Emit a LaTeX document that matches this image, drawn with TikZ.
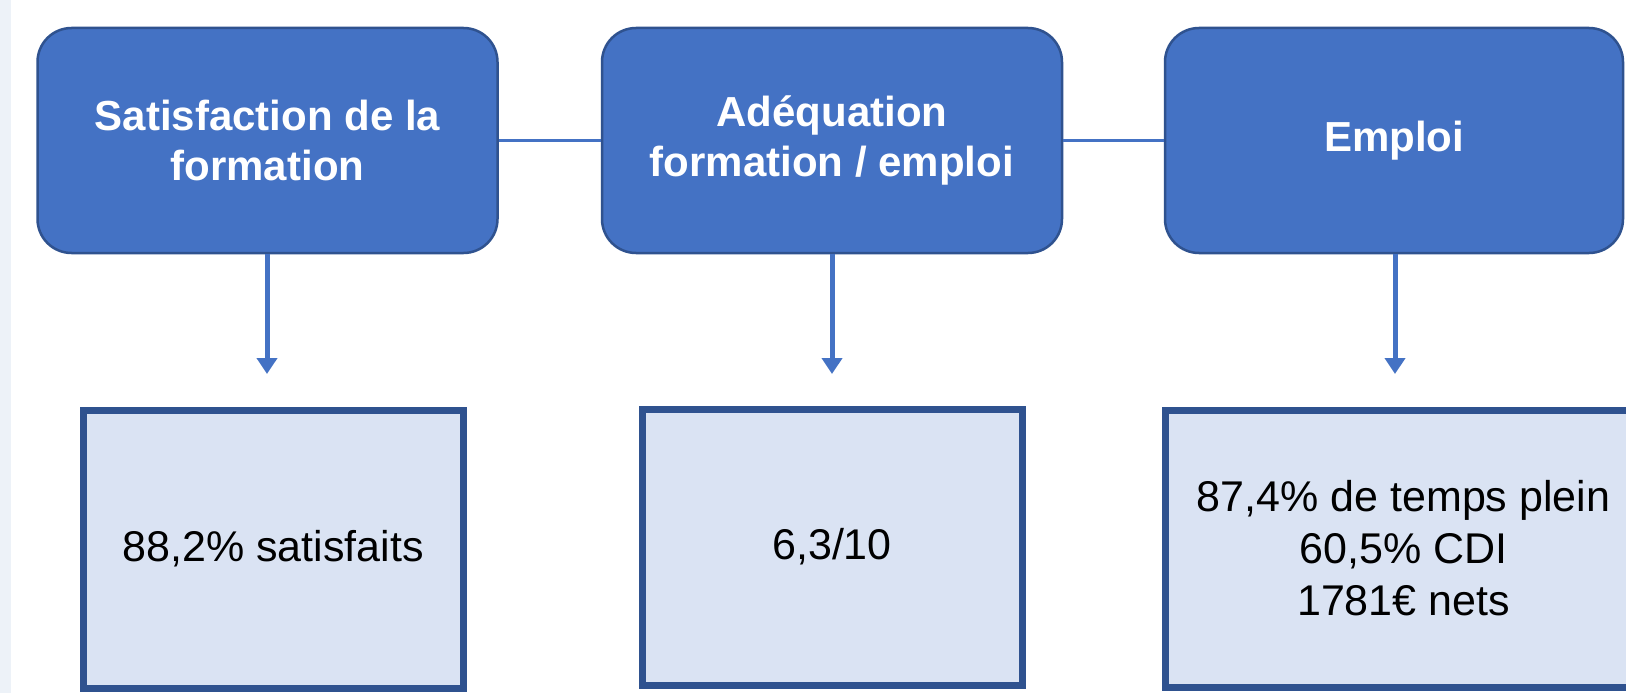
\documentclass[tikz,border=0pt]{standalone}
\usepackage{fontspec}
\setmainfont{Liberation Sans}
\usetikzlibrary{arrows.meta}
\definecolor{topfill}{HTML}{4472C4}
\definecolor{topdraw}{HTML}{2F528F}
\definecolor{botfill}{HTML}{DAE3F3}
\definecolor{botdraw}{HTML}{2F528F}
\definecolor{linkcol}{HTML}{4472C4}
\definecolor{edgestrip}{HTML}{EDF2F8}
\begin{document}
\begin{tikzpicture}[x=1pt,y=-1pt,
  headbox/.style={draw=topdraw, line width=2.5pt, fill=topfill, rounded corners=34pt,
    text=white, font=\fontsize{42}{50}\selectfont\bfseries, align=center, inner sep=0pt},
  valbox/.style={draw=botdraw, line width=7pt, fill=botfill,
    text=black, font=\fontsize{43}{52}\selectfont, align=center, inner sep=0pt},
  link/.style={draw=linkcol, line width=2.5pt},
  downarrow/.style={draw=linkcol, line width=5pt, -{Triangle[width=20pt,length=16pt]}}
]
\useasboundingbox (0,0) rectangle (1626,693);
\fill[white] (0,0) rectangle (1626,693);
\fill[edgestrip] (0,0) rectangle (11,693);
% top boxes
\node[headbox, minimum width=460pt, minimum height=225pt] (t1) at (267.5,140.5) {Satisfaction de la\\formation};
\node[headbox, minimum width=460pt, minimum height=225pt] (t2) at (832,140.5) {Adéquation\\formation / emploi};
\node[headbox, minimum width=458pt, minimum height=225pt] (t3) at (1394,140.5) {Emploi};
% bottom boxes
\node[valbox, minimum width=380pt, minimum height=278pt] (b1) at (273,549) {88,2\% satisfaits};
\node[valbox, minimum width=380pt, minimum height=276pt] (b2) at (832,547) {6,3/10};
\node[valbox, minimum width=477pt, minimum height=277pt] (b3) at (1403.5,548.5) {87,4\% de temps plein\\60,5\% CDI\\1781€ nets};
% horizontal links
\draw[link] (t1.east) -- (t2.west);
\draw[link] (t2.east) -- (t3.west);
% arrow tips
\coordinate (a1) at (267,374);
\coordinate (a2) at (832,374);
\coordinate (a3) at (1395,374);
\draw[downarrow] (t1.south -| a1) -- (a1);
\draw[downarrow] (t2.south -| a2) -- (a2);
\draw[downarrow] (t3.south -| a3) -- (a3);
\end{tikzpicture}
\end{document}
